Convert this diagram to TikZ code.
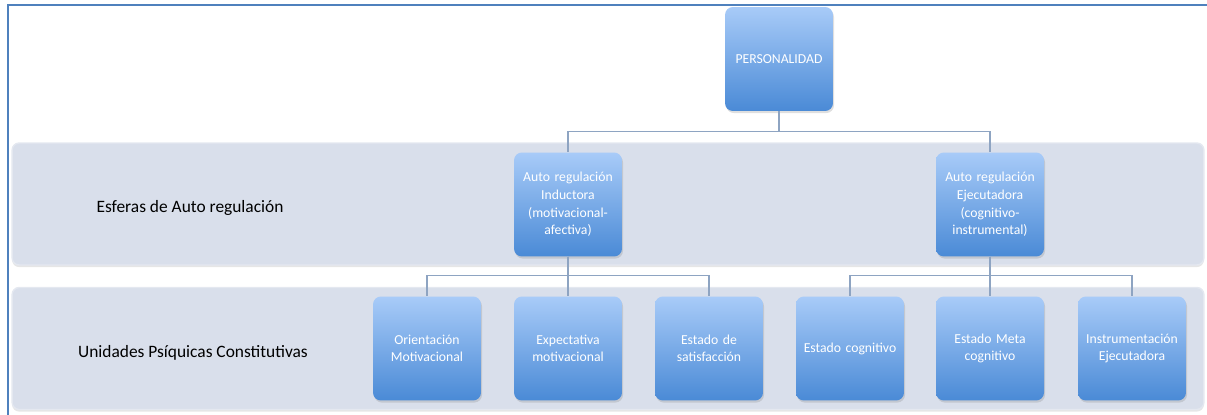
\documentclass[tikz,border=0pt]{standalone}
\usepackage{fontspec}
\setmainfont{Carlito}
\usetikzlibrary{shadows}

\definecolor{boxtop}{HTML}{A8CBF8}
\definecolor{boxbot}{HTML}{4A8AD6}
\definecolor{bandfill}{HTML}{D9DFEB}
\definecolor{bandline}{HTML}{E4E8F0}
\definecolor{frameblue}{HTML}{4F81BD}
\definecolor{connline}{HTML}{8EA4C2}

\begin{document}
\begin{tikzpicture}[x=0.02cm,y=-0.02cm,
    unitbox/.style={rounded corners=4.5pt, top color=boxtop, bottom color=boxbot,
        text=white, align=center, text width=2cm, inner sep=0pt,
        minimum width=2.16cm, minimum height=2.08cm,
        font=\fontsize{7.8}{10}\selectfont,
        drop shadow={opacity=0.25, shadow xshift=0.6pt, shadow yshift=-1.2pt}},
    band/.style={rounded corners=4pt, fill=bandfill, draw=bandline, line width=0.8pt,
        minimum width=23.84cm, minimum height=2.44cm, inner sep=0pt,
        drop shadow={opacity=0.2, shadow xshift=0pt, shadow yshift=-1.2pt}},
    bandlabel/.style={text=black, font=\fontsize{9.9}{11}\selectfont},
    conn/.style={draw=connline, line width=0.7pt}]
    % Picture size (reference pixels)
    \useasboundingbox (0,0) rectangle (1207,415);

    % Outer frame (top and left only)
    \draw[frameblue, line width=1.2pt] (1207,5) -- (8,5) -- (8,415);

    % Background bands
    \node[band] (band1) at (608,204) {};
    \node[band] (band2) at (608,348.5) {};

    % Band labels
    \node[bandlabel] (esferas) at (190,208) {Esferas de Auto regulación};
    \node[bandlabel] (unidades) at (193,353) {Unidades Psíquicas Constitutivas};

    % Top level
    \node[unitbox] (pers) at (779,59) {PERSONALIDAD};

    % Self-regulation spheres
    \node[unitbox] (ind) at (568,204.5) {Auto regulación\\Inductora\\(motivacional-\\afectiva)};
    \node[unitbox] (eje) at (990,204.5) {Auto regulación\\Ejecutadora\\(cognitivo-\\instrumental)};

    % Constituent units
    \foreach \x/\nm/\txt in {427/u1/{Orientación\\Motivacional},
                             568/u2/{Expectativa\\motivacional},
                             709/u3/{Estado de\\satisfacción},
                             850/u4/{Estado cognitivo},
                             990/u5/{Estado Meta\\cognitivo},
                             1132/u6/{Instrumentación\\Ejecutadora}} {
        \node[unitbox] (\nm) at (\x,348.5) {\txt};
    }

    % Connectors
    \foreach \c in {ind,eje}
        \draw[conn] (pers.south) -- ++(0,20) -| (\c.north);
    \foreach \c in {u1,u2,u3}
        \draw[conn] (ind.south) -- ++(0,19) -| (\c.north);
    \foreach \c in {u4,u5,u6}
        \draw[conn] (eje.south) -- ++(0,19) -| (\c.north);
\end{tikzpicture}
\end{document}
